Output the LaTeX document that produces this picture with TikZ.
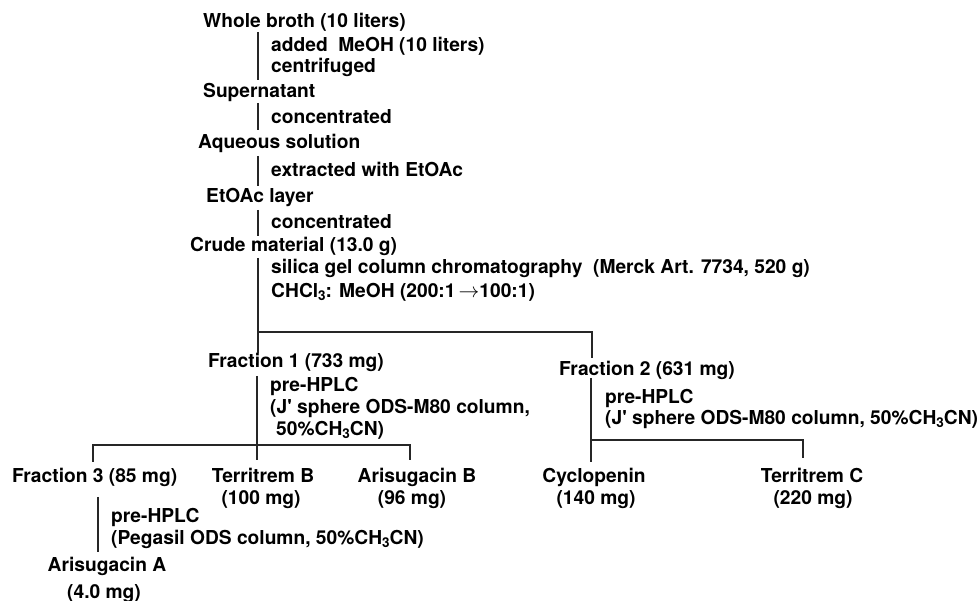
\documentclass[tikz,border=0pt]{standalone}
\usepackage{fontspec}
\setmainfont{TeX Gyre Heros}
\newcommand\sbs[1]{\raisebox{-0.3ex}{\fontsize{13.5}{13}\selectfont #1}}
\begin{document}
\begin{tikzpicture}[x=1pt,y=-1pt,
  lbl/.style={inner sep=0pt, anchor=base west, font=\bfseries\fontsize{19.2}{22}\selectfont},
  ctr/.style={lbl, anchor=base},
  ln/.style={line width=1.1pt, black!85}]
\useasboundingbox (0,0) rectangle (978,601);
% texts
\node[lbl] (wb)    at (203,27.5) {Whole broth (10 liters)};
\node[lbl] (add)   at (271,51.5) {added\ \ MeOH (10 liters)};
\node[lbl] (cen)   at (271,72.5) {centrifuged};
\node[lbl] (sup)   at (203,97.5) {Supernatant};
\node[lbl] (conA)  at (271,123.5) {concentrated};
\node[lbl] (aq)    at (198,148.5) {Aqueous solution};
\node[lbl] (ext)   at (271,176.5) {extracted with EtOAc};
\node[lbl] (eto)   at (206,202.5) {EtOAc layer};
\node[lbl] (conB)  at (271,228.5) {concentrated};
\node[lbl] (crude) at (190,251.5) {Crude material (13.0 g)};
\node[lbl] (sil)   at (271,273.5) {silica gel column chromatography\ \ (Merck Art. 7734, 520 g)};
\node[lbl] (chcl)  at (271,297.5) {CHCl\sbs{3}: MeOH (200:1\,$\rightarrow$100:1)};
\node[lbl] (f1)    at (208,367.5) {Fraction 1 (733 mg)};
\node[lbl] (f2)    at (559,375.5) {Fraction 2 (631 mg)};
\node[lbl] (hp1)   at (270,391.5) {pre-HPLC};
\node[lbl] (js1)   at (270,413.5) {(J\textquotesingle{} sphere ODS-M80 column,};
\node[lbl] (js1b)  at (276,435.5) {50\%CH\sbs{3}CN)};
\node[lbl] (hp2)   at (605,403.5) {pre-HPLC};
\node[lbl] (js2)   at (605,424.5) {(J\textquotesingle{} sphere ODS-M80 column, 50\%CH\sbs{3}CN)};
\node[lbl] (f3)    at (12,482.5) {Fraction 3 (85 mg)};
\node[ctr] (tb)    at (263,482.5) {Territrem B};
\node[ctr] (tbm)   at (261,504.5) {(100 mg)};
\node[ctr] (ab)    at (417,482.5) {Arisugacin B};
\node[ctr] (abm)   at (412,504.5) {(96 mg)};
\node[ctr] (cy)    at (594,482.5) {Cyclopenin};
\node[ctr] (cym)   at (596,504.5) {(140 mg)};
\node[ctr] (tc)    at (812,482.5) {Territrem C};
\node[ctr] (tcm)   at (813,504.5) {(220 mg)};
\node[lbl] (hp3)   at (111,522.5) {pre-HPLC};
\node[lbl] (peg)   at (111,544.5) {(Pegasil ODS column, 50\%CH\sbs{3}CN)};
\node[ctr] (aa)    at (107,571.5) {Arisugacin A};
\node[ctr] (aam)   at (104,598.5) {(4.0 mg)};
% connector end points
\coordinate (p1a) at (258,32);  \coordinate (p1b) at (258,80);
\coordinate (p2a) at (258,103); \coordinate (p2b) at (258,130);
\coordinate (p3a) at (258,156); \coordinate (p3b) at (258,186);
\coordinate (p4a) at (258,210); \coordinate (p4b) at (258,236);
\coordinate (p5a) at (258,258); \coordinate (p5b) at (258,353);
\coordinate (s1)  at (258,332); \coordinate (s2) at (592,332); \coordinate (s3) at (592,358);
\coordinate (q1a) at (257,376); \coordinate (q1b) at (257,460);
\coordinate (t1)  at (93,445);  \coordinate (t2) at (410,445);
\coordinate (t1b) at (93,462);  \coordinate (t2b) at (410,460);
\coordinate (r1a) at (591,378); \coordinate (r1b) at (591,462);
\coordinate (u1)  at (591,440); \coordinate (u2) at (803,440); \coordinate (u2b) at (803,458);
\coordinate (v1a) at (98,497);  \coordinate (v1b) at (98,552);
% connectors
\draw[ln] (p1a) -- (p1b);
\draw[ln] (p2a) -- (p2b);
\draw[ln] (p3a) -- (p3b);
\draw[ln] (p4a) -- (p4b);
\draw[ln] (p5a) -- (p5b);
\draw[ln] (s1) -- (s2) -- (s3);
\draw[ln] (q1a) -- (q1b);
\draw[ln] (t1b) -- (t1) -- (t2) -- (t2b);
\draw[ln] (r1a) -- (r1b);
\draw[ln] (u1) -- (u2) -- (u2b);
\draw[ln] (v1a) -- (v1b);
\end{tikzpicture}
\end{document}
